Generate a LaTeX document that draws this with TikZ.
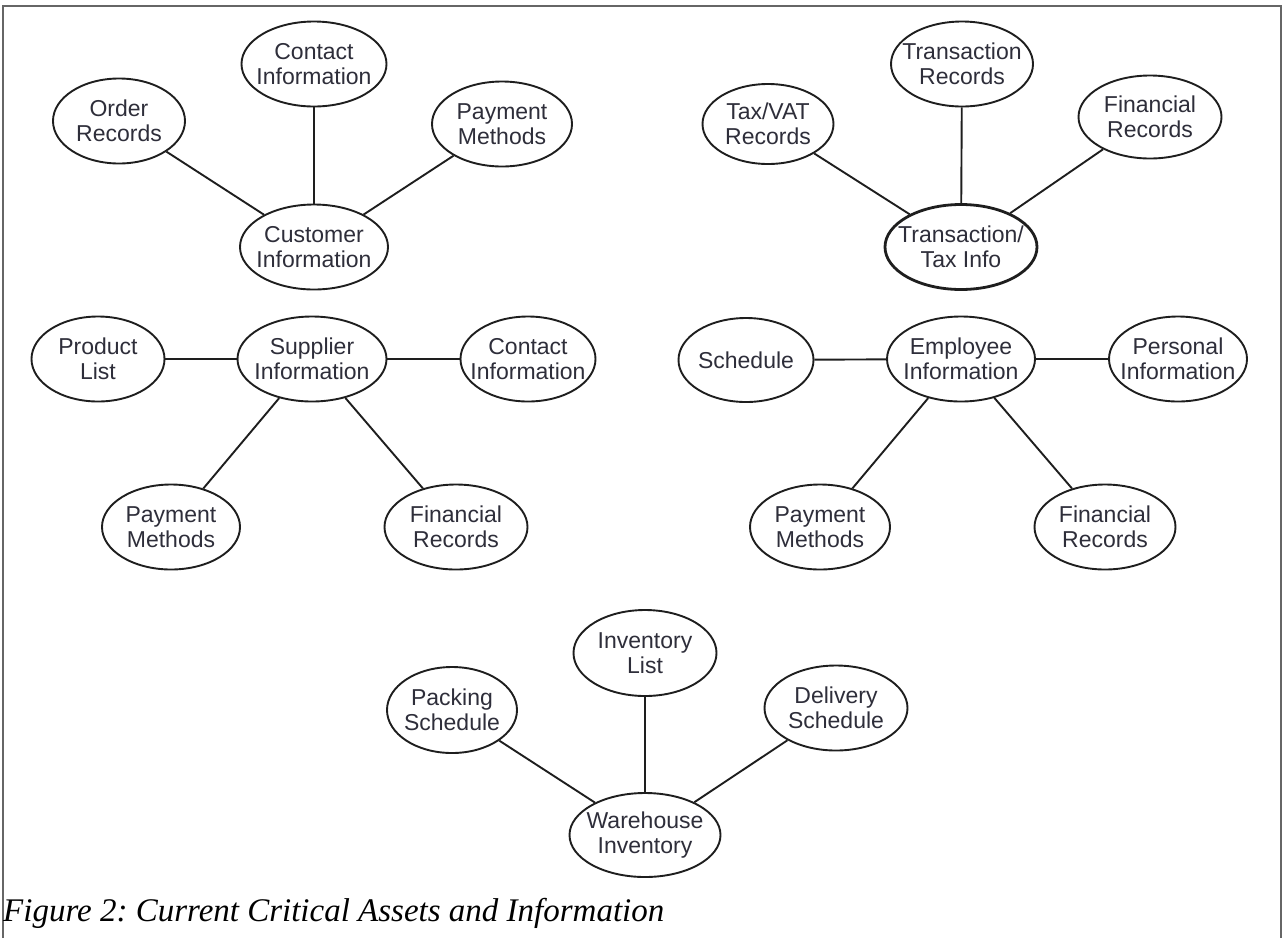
\documentclass[tikz,border=0pt]{standalone}
\usepackage{fontspec}
\setmainfont{Liberation Serif}
\setsansfont{Liberation Sans}
\usetikzlibrary{shapes.geometric}
\definecolor{rub}{HTML}{666666}
\definecolor{crta}{HTML}{1E1E1E}
\definecolor{slova}{HTML}{2E2E3A}
\frenchspacing

\begin{document}
\begin{tikzpicture}[x=1pt, y=-1pt,
  asset/.style={ellipse, draw=crta, line width=1.9pt, fill=white, text=slova,
                minimum height=85pt, inner xsep=-16pt, inner ysep=0pt, align=center,
                font=\sffamily\fontsize{23}{25}\selectfont},
  core/.style={asset, line width=2.8pt},
  veza/.style={draw=crta, line width=1.9pt}
]
\useasboundingbox (0,0) rectangle (1285,938);
\draw[rub, line width=1.6pt] (3,938) -- (3,6) -- (1281,6) -- (1281,938);

% customer
\node[asset, minimum width=148pt] (cust) at (314,247) {Customer\\Information};
\node[asset, minimum width=132pt] (custOrder) at (119,121) {Order\\Records};
\node[asset, minimum width=145pt] (custContact) at (314,64) {Contact\\Information};
\node[asset, minimum width=140pt] (custPay) at (502,124) {Payment\\Methods};

% transaction / tax
\node[core, minimum width=152pt] (trans) at (961,247) {Transaction/\\Tax Info};
\node[asset, minimum width=131pt, minimum height=80pt] (transTax) at (768,124) {Tax/VAT\\Records};
\node[asset, minimum width=142pt] (transRec) at (962,64) {Transaction\\Records};
\node[asset, minimum width=143pt, minimum height=83pt] (transFin) at (1150,117) {Financial\\Records};

% supplier
\node[asset, minimum width=149pt] (supp) at (312,359) {Supplier\\Information};
\node[asset, minimum width=133pt] (suppProd) at (98,359) {Product\\List};
\node[asset, minimum width=135pt] (suppContact) at (528,359) {Contact\\Information};
\node[asset, minimum width=138pt] (suppPay) at (171,527) {Payment\\Methods};
\node[asset, minimum width=143pt] (suppFin) at (456,527) {Financial\\Records};

% employee
\node[asset, minimum width=148pt] (emp) at (961,359) {Employee\\Information};
\node[asset, minimum width=135pt, minimum height=84pt] (empSched) at (746,360) {Schedule};
\node[asset, minimum width=138pt] (empPers) at (1178,359) {Personal\\Information};
\node[asset, minimum width=140pt] (empPay) at (820,527) {Payment\\Methods};
\node[asset, minimum width=141pt] (empFin) at (1105,527) {Financial\\Records};

% warehouse
\node[asset, minimum width=151pt, minimum height=84pt] (ware) at (645,835) {Warehouse\\Inventory};
\node[asset, minimum width=130pt, minimum height=86pt] (warePack) at (452,710) {Packing\\Schedule};
\node[asset, minimum width=143pt, minimum height=86pt] (wareInv) at (645,653) {Inventory\\List};
\node[asset, minimum width=143pt] (wareDel) at (836,708) {Delivery\\Schedule};

\foreach \a/\b in {cust/custOrder, cust/custContact, cust/custPay,
                   trans/transTax, trans/transRec, trans/transFin,
                   supp/suppProd, supp/suppContact, supp/suppPay, supp/suppFin,
                   emp/empSched, emp/empPers, emp/empPay, emp/empFin,
                   ware/warePack, ware/wareInv, ware/wareDel}
  \path[veza] (\a) -- (\b);

\node[anchor=base west, inner sep=0pt, font=\itshape\fontsize{33}{36}\selectfont] (cap) at (3,921)
  {Figure 2: Current Critical Assets and Information};
\end{tikzpicture}
\end{document}
